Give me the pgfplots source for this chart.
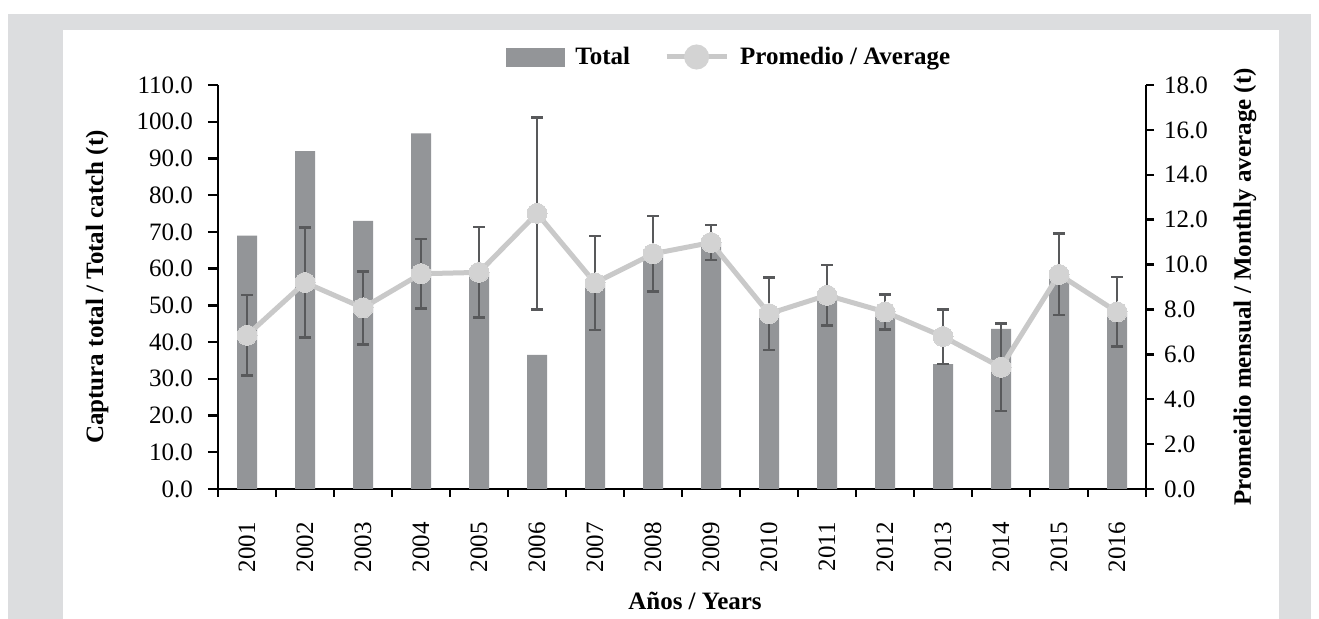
\documentclass[border=0pt]{standalone}
\usepackage{pgfplots}
\pgfplotsset{compat=1.18}
\usepackage{fontspec}
\setmainfont{Liberation Serif}

\definecolor{framegray}{HTML}{DCDDDF}
\definecolor{bargray}{HTML}{939598}
\definecolor{linegray}{HTML}{C9C9C9}
\definecolor{markgray}{HTML}{D3D3D3}
\definecolor{errgray}{HTML}{58595B}

\newcommand{\chartfont}{\fontsize{12.5}{15}\selectfont}

\begin{document}
\begin{tikzpicture}
% page frame: grey border around a white panel
\useasboundingbox (0pt,0pt) rectangle (659.5pt,309.5pt);
\fill[white] (0pt,0pt) rectangle (659.5pt,309.5pt);
\fill[framegray] (4pt,0pt) rectangle (655.5pt,302.5pt);
\fill[white] (31.5pt,0pt) rectangle (639.5pt,294.5pt);

% left axis: yearly total catch (bars)
\begin{axis}[
  at={(109pt,65pt)}, anchor=south west,
  scale only axis, width=464pt, height=202pt,
  xmin=-0.5, xmax=15.5, ymin=0, ymax=110,
  axis x line*=bottom, axis y line*=left,
  axis line style={line width=1.2pt, black},
  tick align=outside,
  xtick={0,...,15},
  xticklabels={2001,2002,2003,2004,2005,2006,2007,2008,2009,2010,2011,2012,2013,2014,2015,2016},
  minor xtick={-0.5,0.5,...,15.5},
  major x tick style={draw=none},
  minor tick length=4pt,
  major tick length=5pt,
  tick style={line width=1.2pt, black},
  xticklabel style={rotate=90, anchor=east, font=\chartfont},
  xticklabel shift=8pt,
  ytick={0,10,...,110},
  yticklabel style={font=\chartfont, /pgf/number format/.cd, fixed, fixed zerofill, precision=1, assume math mode=true},
  yticklabel shift=4pt,
  xlabel={Años / Years},
  ylabel={Captura total / Total catch (t)},
  every axis x label/.style={at={(axis description cs:0.514,-0.2772)}, anchor=center, font=\chartfont\bfseries},
  every axis y label/.style={at={(axis description cs:-0.1304,0.5)}, rotate=90, anchor=center, font=\chartfont\bfseries},
]
\addplot[ybar, bar width=10pt, fill=bargray, draw=none] coordinates {
  (0,69.0) (1,92.0) (2,73.0) (3,96.8) (4,59.0) (5,36.5) (6,56.0) (7,64.0)
  (8,67.0) (9,47.4) (10,52.8) (11,48.0) (12,34.0) (13,43.6) (14,58.0) (15,48.0)
};
\end{axis}

% right axis: monthly average with error bars
\begin{axis}[
  at={(109pt,65pt)}, anchor=south west,
  scale only axis, width=464pt, height=202pt,
  xmin=-0.5, xmax=15.5, ymin=0, ymax=18,
  axis x line=none, axis y line*=right,
  axis line style={line width=1.2pt, black},
  tick align=outside,
  major tick length=4pt,
  tick style={line width=1.2pt, black},
  ytick={0,2,...,18},
  yticklabel style={font=\chartfont, /pgf/number format/.cd, fixed, fixed zerofill, precision=1, assume math mode=true},
  yticklabel shift=1.5pt,
  ylabel={Promeidio mensual / Monthly average (t)},
  every axis y label/.style={at={(axis description cs:1.1067,0.5)}, rotate=90, anchor=center, font=\chartfont\bfseries},
  legend style={at={(0.5517,1.0693)}, anchor=center, draw=none, fill=none,
    legend columns=-1, font=\chartfont\bfseries,
    /tikz/every odd column/.append style={column sep=3.5pt},
    /tikz/every even column/.append style={column sep=15pt}},
  clip=false,
]
\addlegendimage{legend image code/.code={\fill[bargray] (0pt,-4.5pt) rectangle (29pt,4.5pt);}}
\addlegendentry{Total}
\addplot[linegray, line width=2.5pt, mark=*, mark size=5pt,
  mark options={fill=markgray, draw=markgray, line width=0pt},
  legend image code/.code={\draw[linegray, line width=2.5pt] (0pt,0pt) -- (30pt,0pt); \fill[markgray] (15pt,0pt) circle (5pt);},
  error bars/.cd, y dir=both, y explicit,
  error bar style={errgray, line width=1.3pt},
  error mark options={errgray, rotate=90, mark size=3pt, line width=1.3pt}]
  table[x=x, y=y, y error=e] {
  x  y     e
  0  6.85  1.80
  1  9.20  2.46
  2  8.07  1.62
  3  9.59  1.54
  4  9.65  2.02
  5  12.28 4.28
  6  9.18  2.10
  7  10.48 1.69
  8  10.98 0.78
  9  7.81  1.62
  10 8.63  1.35
  11 7.89  0.78
  12 6.79  1.22
  13 5.42  1.94
  14 9.56  1.81
  15 7.89  1.55
};
\addlegendentry{Promedio / Average}
\end{axis}
\end{tikzpicture}
\end{document}
